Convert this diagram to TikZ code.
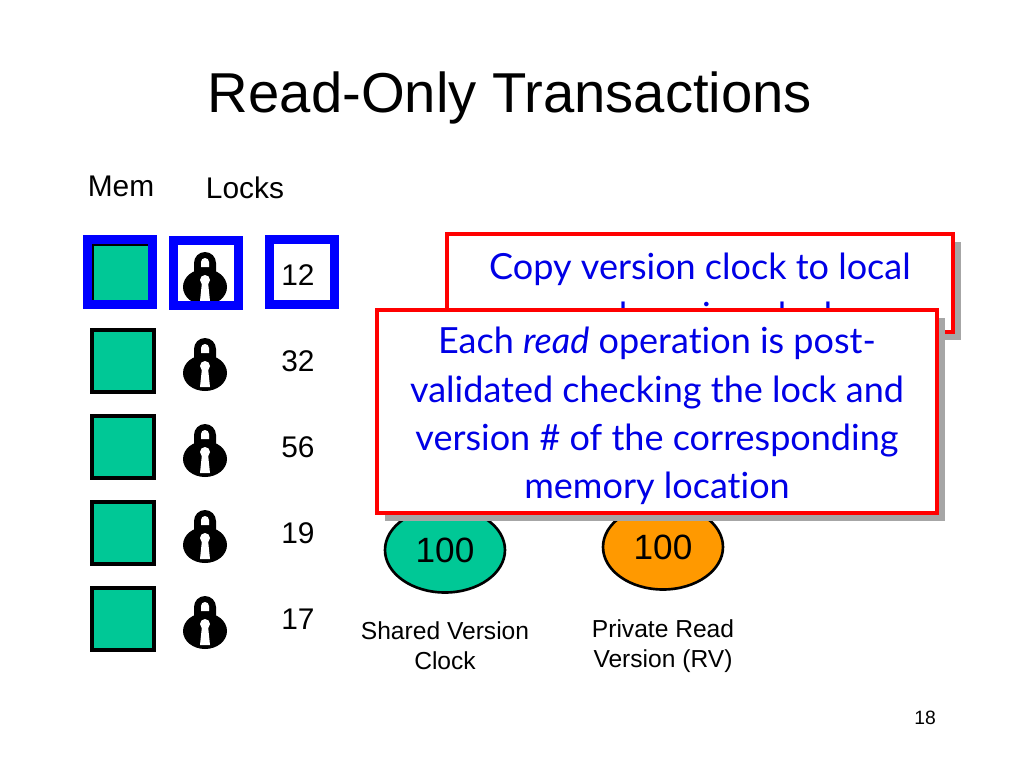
\documentclass[tikz,border=0pt]{standalone}
\usepackage{fontspec}
\setmainfont{Liberation Sans}
\newfontfamily\calloutfont[Ligatures=NoCommon]{Lato}
\usetikzlibrary{shapes.geometric}
\definecolor{memgreen}{RGB}{0,200,150}
\definecolor{rvorange}{RGB}{255,153,0}
\definecolor{callblue}{RGB}{0,0,230}
\begin{document}
\begin{tikzpicture}[x=0.02cm,y=-0.02cm]

      \tikzset{cell/.style={draw, line width=2pt, fill=memgreen, minimum size=1.24cm, inner sep=0pt},
               sel/.style={draw=blue, line width=5pt, minimum size=1.3cm, inner sep=0pt},
               num/.style={font=\fontsize{17}{20}\selectfont},
               clock/.style={draw, ellipse, line width=1.5pt, minimum width=2.4cm, minimum height=1.7cm, font=\fontsize{20}{24}\selectfont},
               callbox/.style={draw=red, line width=2.5pt, fill=white},
               calltext/.style={align=center, text=callblue, font=\calloutfont\fontsize{20.5}{27.5}\selectfont},
               lbl/.style={align=center, font=\fontsize{14}{17}\selectfont}}
      \useasboundingbox (0,0) rectangle (1024,768);
% Title
	\node[font=\fontsize{32}{36}\selectfont] (title) at (510,98) {Read-Only Transactions};
	\node[font=\fontsize{17}{20}\selectfont] (mem) at (121,186) {Mem};
	\node[font=\fontsize{17}{20}\selectfont] (locks) at (245,188) {Locks};
% Rows
	\foreach \y/\v [count=\i] in {275/12,361/32,447/56,533/19,619/17} {
		\node[cell] (m\i) at (123,\y) {};
		\node[num] (n\i) at (298,\y) {\v};
		% lock
		\fill (205,\y) ++(-11,0) -- ++(0,-12) arc (180:360:11) -- ++(0,12) -- cycle;
		\fill[white] (205,\y) ++(-4,-8) -- ++(0,-5) arc (180:360:4) -- ++(0,5) -- cycle;
		\fill (205,\y+12) ellipse (22 and 18);
		\fill[white] (205,\y+5) circle (5) (202,\y+7) -- (208,\y+7) -- (210,\y+26) -- (200,\y+26) -- cycle;
	}
	\node[sel] (selm) at (120,272) {};
	\node[sel] (sell) at (206,273) {};
	\node[sel] (seln) at (302,272) {};
% Clocks
	\node[clock, fill=memgreen] (shared) at (445,550) {100};
	\node[clock, fill=rvorange] (rv) at (663,547) {100};
	\node[lbl] (sharedlbl) at (445,646) {Shared Version\\Clock};
	\node[lbl] (rvlbl) at (663,646) {Private Read\\Version (RV)};
% Callouts
	\fill[gray!70] (455,242) rectangle (961,340);
	\draw[callbox] (447,234) rectangle (953,332);
	\node[calltext, anchor=north] (copy) at (700,247) {Copy version clock to local\\read version clock};
	\fill[gray!70] (385,318) rectangle (945,521);
	\draw[callbox] (377,310) rectangle (937,513);
	\node[calltext] (post) at (657,416)
		{Each \textit{read} operation is post-\\validated checking the lock and\\version \# of the corresponding\\memory location};
	\node[font=\fontsize{11}{13}\selectfont] (page) at (925,718) {18};

\end{tikzpicture}
\end{document}
